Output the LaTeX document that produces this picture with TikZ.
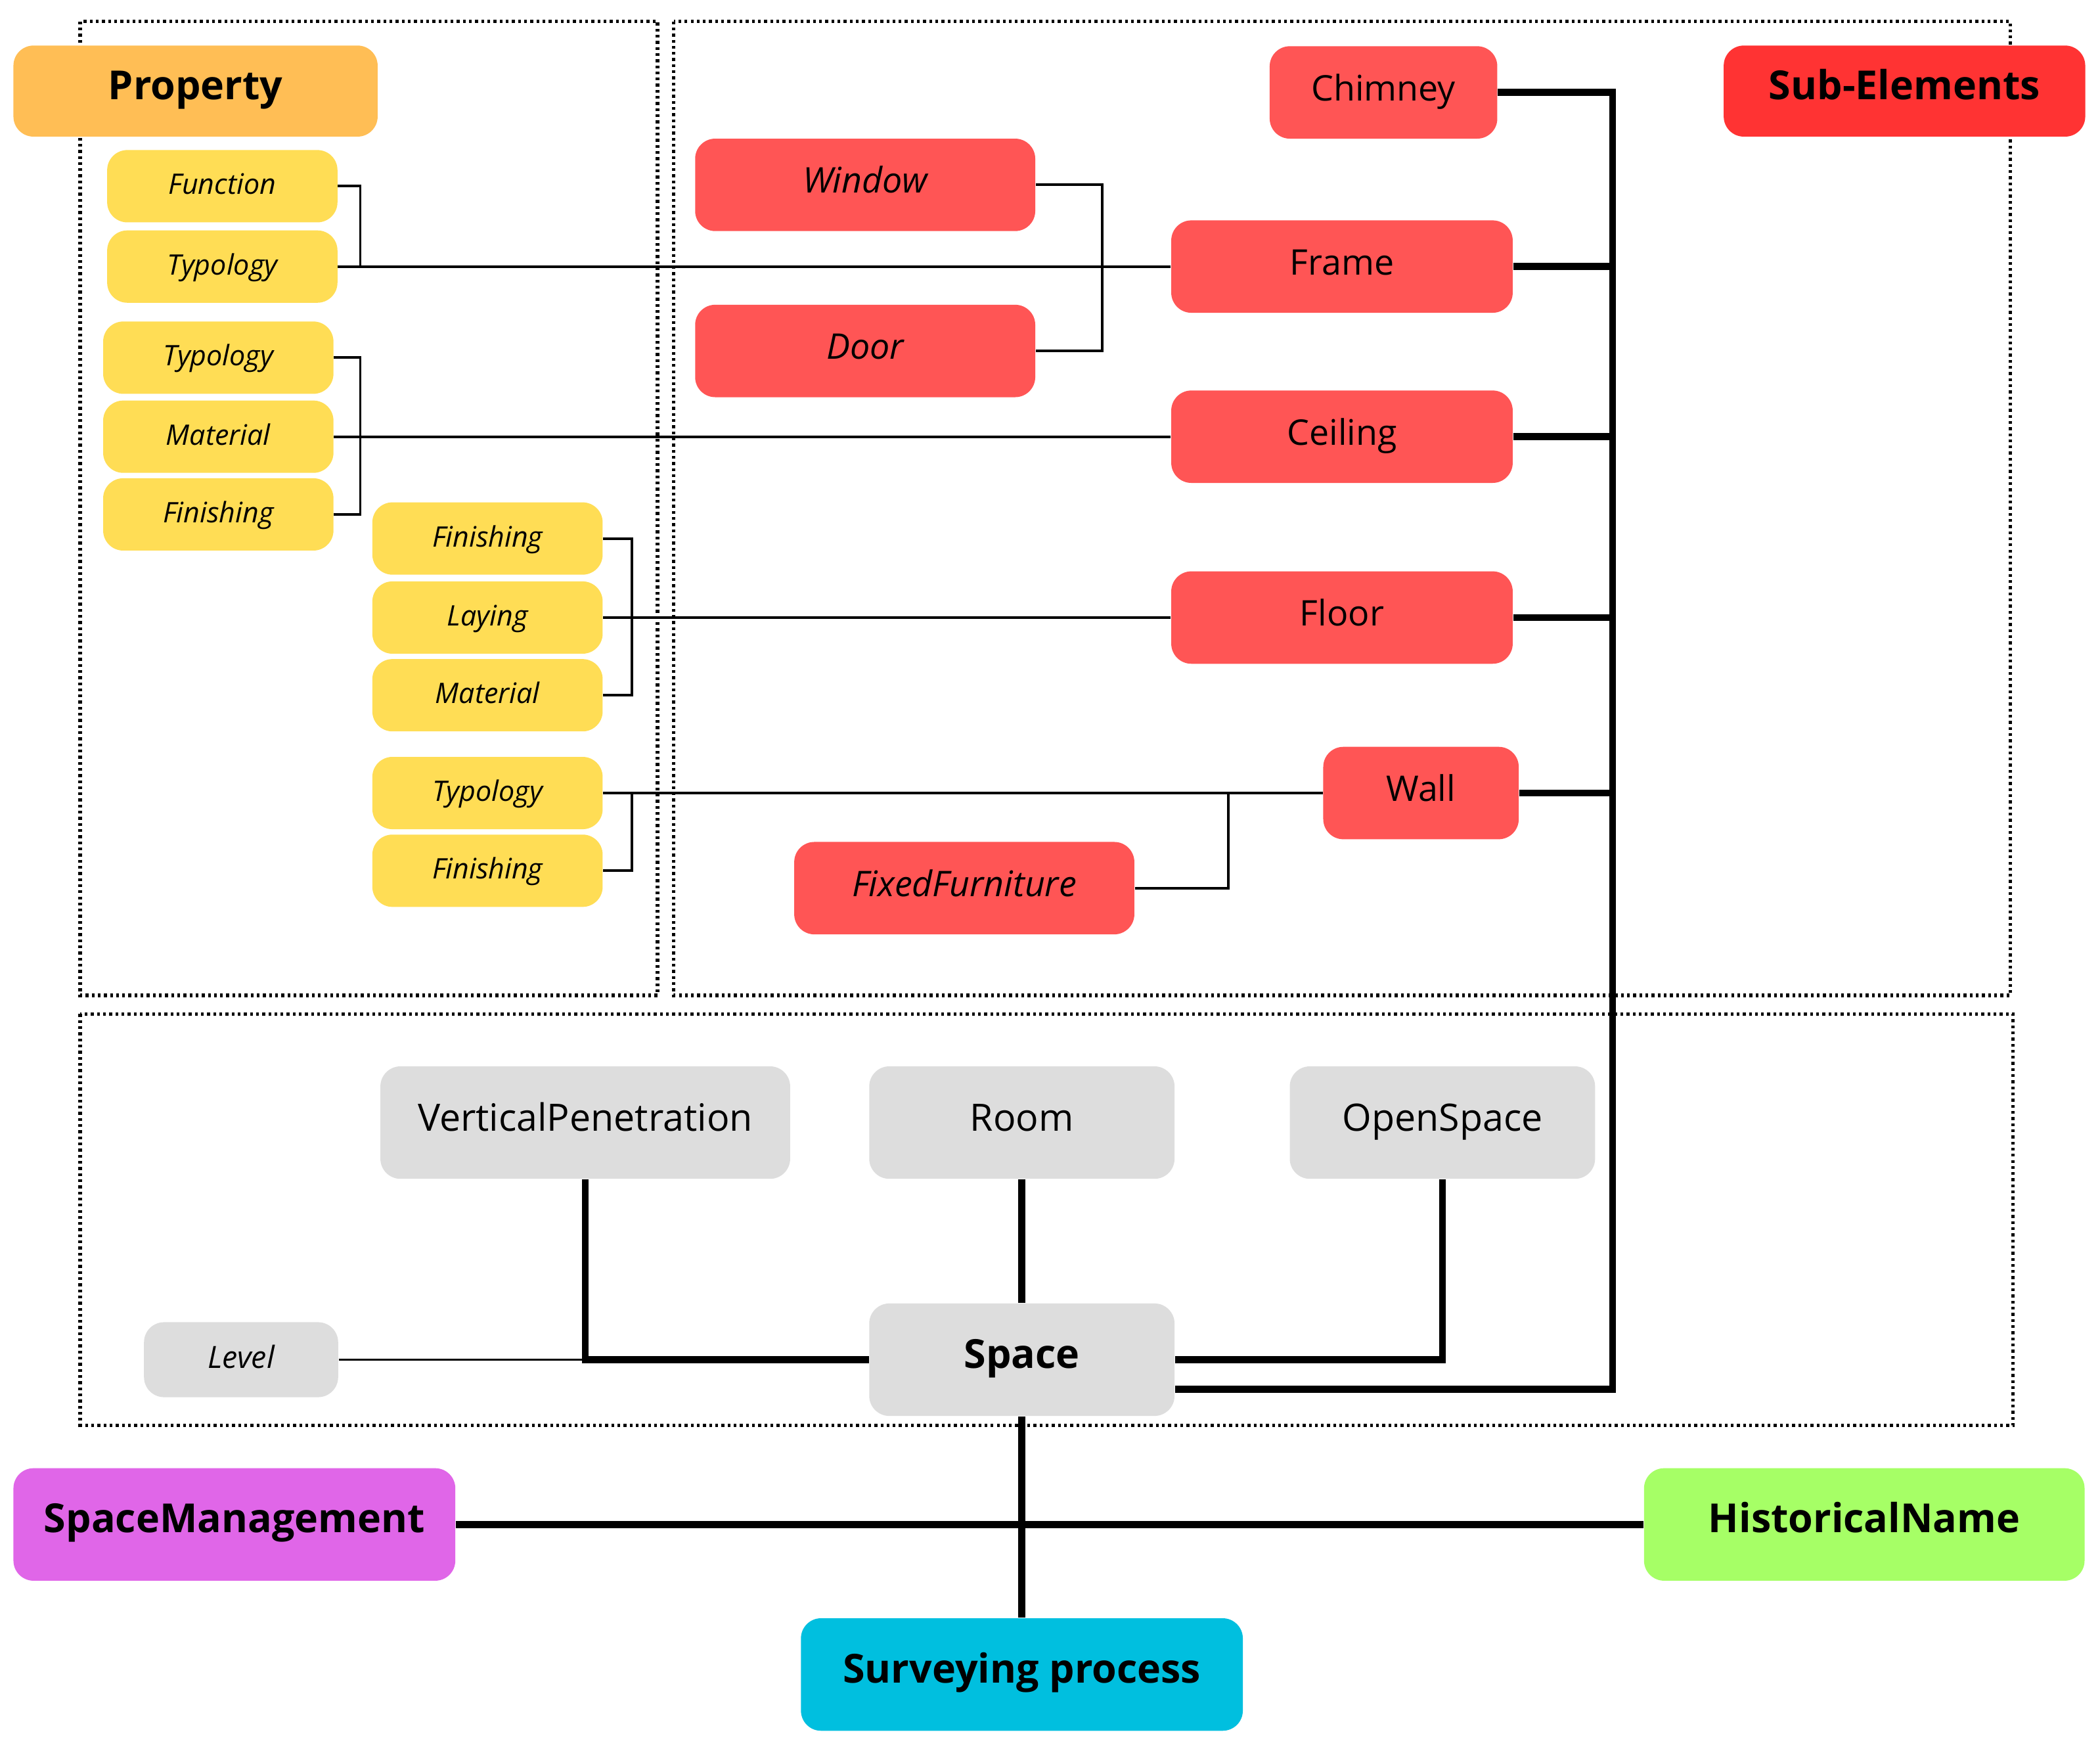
\documentclass[tikz,border=0pt]{standalone}
\usepackage{fontspec}
\setmainfont{Open Sans}
\begin{document}
\begin{tikzpicture}[x=0.02cm,y=-0.02cm,
 box/.style={draw=none,rounded corners=0.3cm,inner sep=0pt,anchor=center,text height=0.75em,text depth=0.05em},
 big/.style={box,font=\fontsize{17}{19}\selectfont\bfseries,minimum height=1.36cm},
 yel/.style={box,fill=yel,font=\fontsize{12}{14}\selectfont\itshape,minimum width=3.44cm,minimum height=1.08cm},
 red/.style={box,fill=redf,font=\fontsize{15}{17}\selectfont,minimum height=1.38cm},
 gry/.style={box,fill=gryf,font=\fontsize{16}{18}\selectfont,minimum height=1.68cm},
 thin/.style={line width=1.1pt},
 thick/.style={line width=3pt},
 dot/.style={line width=1.6pt,dash pattern=on 1.2pt off 1.4pt}]
\definecolor{yel}{HTML}{FFDD55}
\definecolor{redf}{HTML}{FF5555}
\definecolor{gryf}{HTML}{DDDDDD}
\useasboundingbox (0,0) rectangle (1568,1304);
\draw[dot] (60,16) rectangle (491,743);
\draw[dot] (503,16) rectangle (1501,743);
\draw[dot] (60,757) rectangle (1503,1064);
\node[big,fill={rgb,255:red,255;green,190;blue,85},minimum width=5.44cm] (prop) at (146,68) {Property};
\node[big,fill={rgb,255:red,255;green,51;blue,51},minimum width=5.4cm] (sub) at (1422,68) {Sub-Elements};
\node[yel] (fun) at (166,139) {Function};
\node[yel] (ty1) at (166,199) {Typology};
\node[yel] (ty2) at (163,267) {Typology};
\node[yel] (ma1) at (163,326) {Material};
\node[yel] (fi1) at (163,384) {Finishing};
\node[yel] (fi2) at (364,402) {Finishing};
\node[yel] (lay) at (364,461) {Laying};
\node[yel] (ma2) at (364,519) {Material};
\node[yel] (ty3) at (364,592) {Typology};
\node[yel] (fi3) at (364,650) {Finishing};
\node[red,minimum width=3.4cm] (chi) at (1033,69) {Chimney};
\node[red,minimum width=5.08cm,font=\fontsize{15}{17}\selectfont\itshape] (win) at (646,138) {Window};
\node[red,minimum width=5.1cm] (fra) at (1002,199) {Frame};
\node[red,minimum width=5.08cm,font=\fontsize{15}{17}\selectfont\itshape] (door) at (646,262) {Door};
\node[red,minimum width=5.1cm] (cei) at (1002,326) {Ceiling};
\node[red,minimum width=5.1cm] (flo) at (1002,461) {Floor};
\node[red,minimum width=2.92cm] (wall) at (1061,592) {Wall};
\node[red,minimum width=5.08cm,font=\fontsize{15}{17}\selectfont\itshape] (ff) at (720,663) {FixedFurniture};
\node[gry,minimum width=6.12cm] (vp) at (437,838) {VerticalPenetration};
\node[gry,minimum width=4.56cm] (room) at (763,838) {Room};
\node[gry,minimum width=4.56cm] (os) at (1077,838) {OpenSpace};
\node[gry,minimum width=2.9cm,minimum height=1.12cm,font=\fontsize{13}{15}\selectfont\itshape] (lev) at (180,1015) {Level};
\node[gry,minimum width=4.56cm,font=\fontsize{17}{19}\selectfont\bfseries] (sp) at (763,1015) {Space};
\node[big,fill={rgb,255:red,224;green,102;blue,232},minimum width=6.6cm,minimum height=1.68cm] (sm) at (175,1138) {SpaceManagement};
\node[big,fill={rgb,255:red,166;green,255;blue,102},minimum width=6.58cm,minimum height=1.68cm] (hn) at (1392,1138) {HistoricalName};
\node[big,fill={rgb,255:red,0;green,191;blue,223},minimum width=6.6cm,minimum height=1.68cm] (sv) at (763,1250) {Surveying process};
% thin connectors
\draw[thin] (fun.east) -| (269,199);
\draw[thin] (ty1.east) -- (fra.west);
\draw[thin] (ty2.east) -- (269,267) |- (fi1.east);
\draw[thin] (ma1.east) -- (cei.west);
\draw[thin] (fi2.east) -- (472,402) |- (ma2.east);
\draw[thin] (lay.east) -- (flo.west);
\draw[thin] (ty3.east) -- (wall.west);
\draw[thin] (fi3.east) -| (472,592);
\draw[thin] (win.east) -- (823,138) |- (door.east);
\draw[thin] (ff.east) -| (917,592);
\coordinate (lj) at (437,1015);
\draw[thin] (lev.east) -- (lj);
% thick connectors
\coordinate (trunk) at (1204,69);
\coordinate (tb) at (1204,1037);
\draw[thick] (chi.east) -- (trunk) -- (tb) -- (sp.east |- tb);
\draw[thick] (fra.east) -- (fra.east -| trunk);
\draw[thick] (cei.east) -- (cei.east -| trunk);
\draw[thick] (flo.east) -- (flo.east -| trunk);
\draw[thick] (wall.east) -- (wall.east -| trunk);
\draw[thick] (vp.south) -- (lj) -- (sp.west);
\draw[thick] (room.south) -- (sp.north);
\draw[thick] (os.south) -- (os.south |- sp.east) -- (sp.east);
\draw[thick] (sp.south) -- (sv.north);
\draw[thick] (sm.east) -- (hn.west);
\end{tikzpicture}
\end{document}
